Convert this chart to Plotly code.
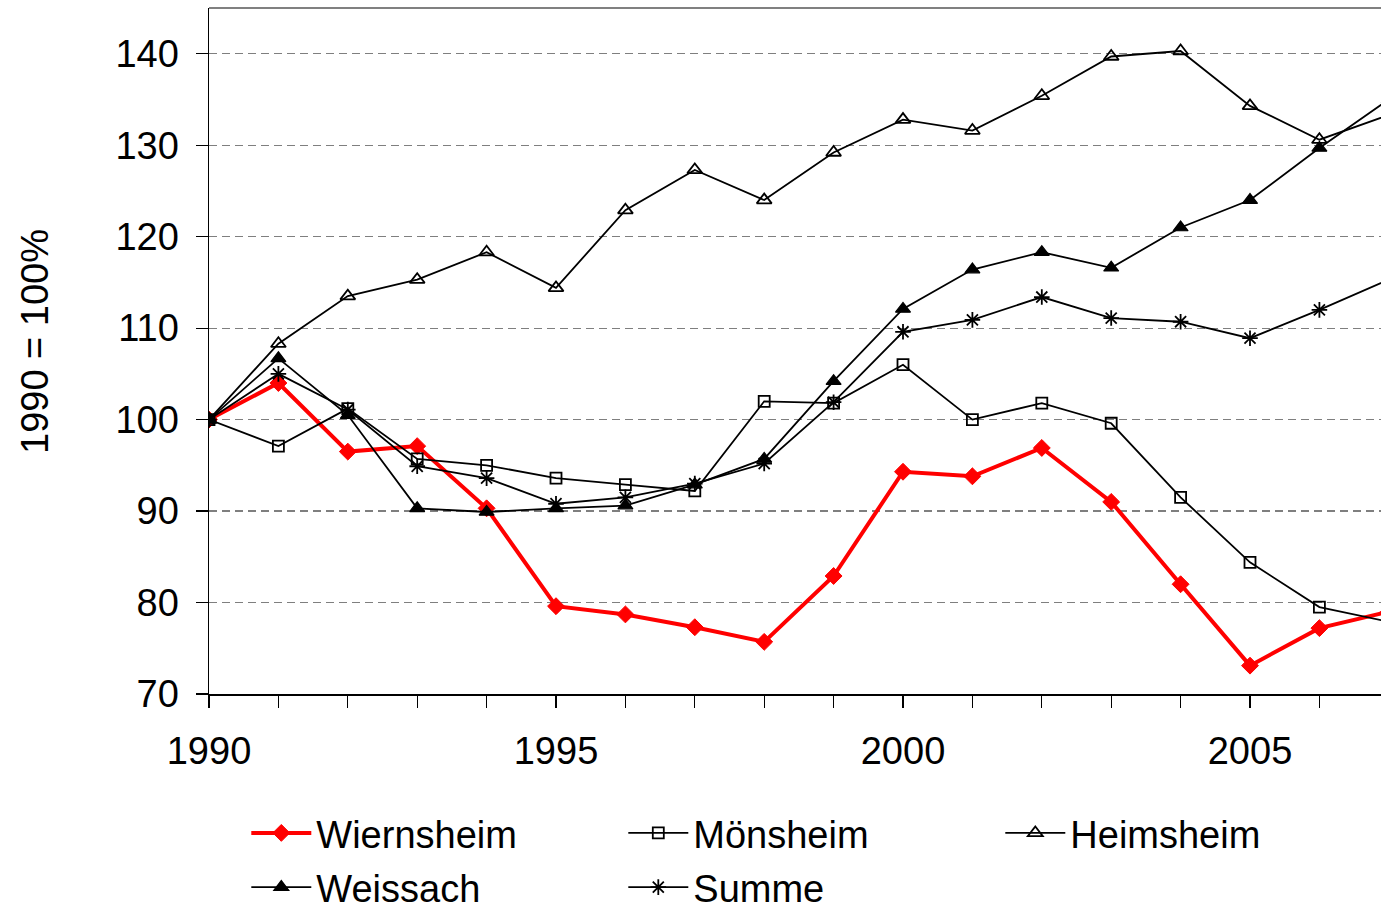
import plotly.graph_objects as go

years = list(range(1990, 2008))

wiernsheim = [100, 104.0, 96.5, 97.1, 90.3, 79.6, 78.7, 77.3, 75.7, 82.9, 94.3, 93.8, 96.9, 91.0, 82.0, 73.1, 77.2, 79.0]
moensheim = [100, 97.1, 101.2, 95.7, 95.0, 93.6, 92.9, 92.2, 102.0, 101.8, 106.0, 100.0, 101.8, 99.6, 91.5, 84.4, 79.5, 77.9]
heimsheim = [100, 108.3, 113.5, 115.3, 118.3, 114.4, 122.9, 127.3, 124.0, 129.2, 132.8, 131.6, 135.4, 139.7, 140.3, 134.3, 130.6, 133.3]
weissach = [100, 106.7, 100.5, 90.3, 89.9, 90.3, 90.6, 92.9, 95.7, 104.2, 112.1, 116.4, 118.3, 116.6, 121.0, 124.0, 129.7, 135.0]
summe = [100, 105.0, 101.1, 94.9, 93.6, 90.8, 91.5, 93.0, 95.2, 101.9, 109.6, 110.9, 113.4, 111.1, 110.7, 108.9, 112.0, 115.3]

x_ticks = [1990, 1995, 2000, 2005]
y_ticks = [70, 80, 90, 100, 110, 120, 130, 140]

FONT = "Liberation Sans, Arial, sans-serif"
FS = 38

W, H = 1381, 909
ML, MT, MB = 209, 8, 215
PW = W - ML           # 1172 px plot width
PH = H - MT - MB      # 686 px plot height
PX_PER_YEAR = 69.4

fig = go.Figure()

def add(name, y, color, width, symbol, msize, mline, legend, mcolor=None):
    fig.add_trace(go.Scatter(
        x=years, y=y, name=name, mode="lines+markers",
        line=dict(color=color, width=width),
        marker=dict(symbol=symbol, size=msize, color=mcolor or color,
                    line=dict(color=color, width=mline)),
        legend=legend,
    ))

add("Wiernsheim", wiernsheim, "#ff0000", 4, "diamond", 13, 1, "legend")
add("Mönsheim", moensheim, "#000000", 1.8, "square-open", 11, 1.8, "legend", "#000000")
add("Heimsheim", heimsheim, "#000000", 1.8, "triangle-up-open", 13, 1.8, "legend", "#000000")
add("Weissach", weissach, "#000000", 1.8, "triangle-up", 13, 1.2, "legend2")
add("Summe", summe, "#000000", 1.8, "asterisk-open", 13, 1.8, "legend2", "#000000")

legend_common = dict(
    orientation="h", xanchor="left", yanchor="top",
    font=dict(family=FONT, size=FS, color="black"),
    bgcolor="rgba(0,0,0,0)", itemwidth=60, entrywidth=302,
    entrywidthmode="pixels", itemclick=False, itemdoubleclick=False,
)

lx = 0.025 + 8 / PW

fig.update_layout(
    width=W, height=H,
    margin=dict(l=ML, r=0, t=MT, b=MB, autoexpand=False),
    paper_bgcolor="white", plot_bgcolor="white",
    font=dict(family=FONT, size=FS, color="black"),
    showlegend=True,
    legend=dict(x=lx, y=-0.157, **legend_common),
    legend2=dict(x=lx, y=-0.236, **legend_common),
    xaxis=dict(
        range=[1990, 1990 + PW / PX_PER_YEAR], tickmode="array", tickvals=years,
        ticktext=[str(v) if v in x_ticks else "" for v in years],
        showgrid=False, zeroline=False, showline=True, linecolor="black", linewidth=1.5,
        ticks="outside", ticklen=12, tickwidth=1.2, tickcolor="black",
        ticklabelstandoff=11,
        tickfont=dict(family=FONT, size=FS, color="black"),
    ),
    xaxis2=dict(
        range=[1990, 1990 + PW / PX_PER_YEAR], overlaying="x", anchor="y", side="bottom",
        tickmode="array", tickvals=years, showticklabels=False, showgrid=False, zeroline=False,
        showline=False, ticks="inside", ticklen=12, tickwidth=1.2, tickcolor="black",
    ),
    yaxis=dict(
        range=[70, 145], tickmode="array", tickvals=y_ticks, ticktext=[str(v) for v in y_ticks],
        showgrid=True, gridcolor="#7f7f7f", griddash="8px,5px", gridwidth=1.2,
        zeroline=False, showline=True, linecolor="black", linewidth=1.5,
        ticks="outside", ticklen=12, tickwidth=1.2, tickcolor="black",
        ticklabelstandoff=9,
        tickfont=dict(family=FONT, size=FS, color="black"),
    ),
)

# y-axis title placed as rotated text
fig.add_annotation(
    text="1990 = 100%", xref="paper", yref="paper",
    x=-174 / PW, y=(686 - 334) / PH, textangle=-90, showarrow=False,
    xanchor="center", yanchor="middle",
    font=dict(family=FONT, size=FS, color="black"),
)

# gray top border of the plot area
fig.add_shape(type="line", xref="paper", yref="paper", x0=0, x1=1, y0=1, y1=1,
              line=dict(color="#808080", width=2))

fig.write_html(
    "out.html",
    config={"displayModeBar": False, "staticPlot": True},
    post_script="document.body.style.margin='0';document.body.style.overflow='hidden';"
                "document.documentElement.style.overflow='hidden';",
)
